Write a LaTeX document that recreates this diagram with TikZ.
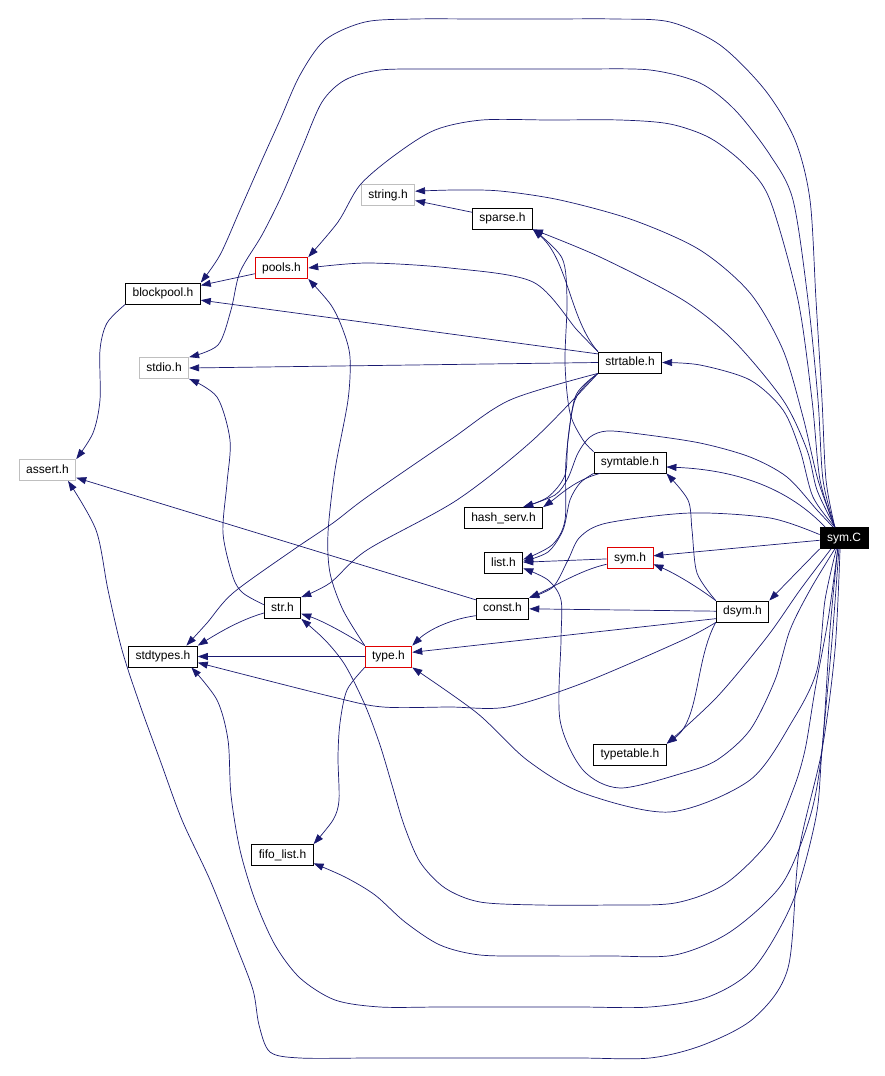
\documentclass[tikz,border=0pt]{standalone}
\usepackage{fontspec}
\setmainfont{Liberation Sans}
\usetikzlibrary{arrows.meta}

\definecolor{edgeblue}{HTML}{191970}
\definecolor{sysgray}{HTML}{BFBFBF}
\definecolor{truncred}{HTML}{E00000}

\begin{document}
\begin{tikzpicture}[x=1pt,y=-1pt,
  incfile/.style={rectangle, line width=0.8pt, inner xsep=7pt, minimum height=21pt,
    text height=9pt, text depth=2.5pt, font=\fontsize{12}{14}\selectfont},
  hdr/.style={incfile, draw=black},
  sys/.style={incfile, draw=sysgray},
  trunc/.style={incfile, draw=truncred},
  mainfile/.style={incfile, draw=black, fill=black, text=white},
  dep/.style={edgeblue, line width=0.7pt, -{Triangle[length=10pt,width=7pt]}}]

  \useasboundingbox (0,0) rectangle (884,1076);

  % Files
  \node[mainfile] (symC) at (844,538) {sym.C};
  \node[sys] (string) at (388,195) {string.h};
  \node[hdr] (sparse) at (502.5,218.5) {sparse.h};
  \node[trunc] (pools) at (281.5,268) {pools.h};
  \node[hdr] (blockpool) at (163,293.5) {blockpool.h};
  \node[sys] (stdio) at (164,368) {stdio.h};
  \node[hdr] (strtable) at (630,362.5) {strtable.h};
  \node[sys] (assert) at (47.5,470) {assert.h};
  \node[hdr] (symtable) at (630,462.5) {symtable.h};
  \node[hdr] (hashserv) at (503.5,518) {hash\_serv.h};
  \node[hdr] (list) at (503.5,563) {list.h};
  \node[trunc] (sym) at (630,558) {sym.h};
  \node[hdr] (const) at (502.5,608.5) {const.h};
  \node[hdr] (dsym) at (742.5,611.5) {dsym.h};
  \node[hdr] (str) at (282.5,608) {str.h};
  \node[hdr] (stdtypes) at (163,656.5) {stdtypes.h};
  \node[trunc] (type) at (388.5,656.5) {type.h};
  \node[hdr] (typetable) at (630,754.5) {typetable.h};
  \node[hdr] (fifolist) at (282.5,855) {fifo\_list.h};

  % sym.C, loops over the top
  \draw[dep] plot[smooth, tension=0.5] coordinates {(symC.130) (826,480) (822,400) (816,300) (810,200) (795,140) (765,90) (720,45) (670,22) (615,19) (550,19) (480,19) (415,19) (365,22) (325,40) (300,75) (280,120) (262,160) (240,210) (220,255) (blockpool.north east)};
  \draw[dep] plot[smooth, tension=0.5] coordinates {(symC.130) (823,480) (818,400) (808,300) (793,200) (770,155) (735,110) (700,83) (650,70) (580,69) (510,69) (440,69) (380,70) (345,80) (322,102) (302,148) (282,195) (262,235) (240,272) (231,310) (218,345) (stdio.north east)};
  \draw[dep] plot[smooth, tension=0.5] coordinates {(symC.130) (820,480) (812,400) (798,300) (770,200) (745,165) (710,138) (670,124) (620,120) (550,120) (482,120) (435,130) (395,155) (360,185) (338,222) (pools.north east)};
  \draw[dep] plot[smooth, tension=0.5] coordinates {(symC.130) (818,480) (803,417) (783,350) (750,293) (700,250) (633,220) (560,200) (500,191) (455,190) (string.8)};
  \draw[dep] plot[smooth, tension=0.5] coordinates {(symC.130) (817,490) (807,450) (783,400) (733,340) (683,300) (600,257) (sparse.south east)};
  \draw[dep] plot[smooth, tension=0.5] coordinates {(symC.130) (813,497) (800,450) (783,410) (750,380) (700,365) (strtable.east)};
  \draw[dep] (symC.150) .. controls (790,490) and (740,470) .. (symtable.-7);
  \draw[dep] plot[smooth, tension=0.5] coordinates {(symC.135) (817,510) (787,477) (750,457) (700,443) (640,434) (607,431) (590,437) (578,453) (568,478) (555,495) (hashserv.29)};
  \draw[dep] (symC) -- (sym);
  \draw[dep] plot[smooth, tension=0.5] coordinates {(symC.172) (770,518) (690,513) (607,523) (580,537) (568,560) (553,587) (const.north east)};
  \draw[dep] (symC.south west) -- (dsym.north east);
  \draw[dep] plot[smooth, tension=0.5] coordinates {(symC.-140) (800,590) (767,637) (717,697) (typetable.north east)};

  % sym.C, loops under the bottom
  \draw[dep] plot[smooth, tension=0.5] coordinates {(symC.-130) (810,590) (790,630) (775,680) (750,730) (717,760) (683,773) (620,788) (583,770) (560,720) (561,640) (561,600) (548,580) (list.-15)};
  \draw[dep] plot[smooth, tension=0.5] coordinates {(symC.-125) (825,600) (817,670) (793,720) (750,780) (670,812) (583,793) (527,760) (477,713) (type.south east)};
  \draw[dep] plot[smooth, tension=0.5] coordinates {(symC.-120) (828,620) (815,690) (805,750) (793,790) (770,840) (725,884) (675,903) (610,905) (540,905) (480,902) (445,888) (420,862) (404,825) (392,785) (380,745) (365,705) (345,665) (325,640) (str.-30)};
  \draw[dep] plot[smooth, tension=0.5] coordinates {(symC.-120) (830,630) (822,750) (810,817) (782,884) (730,932) (675,955) (610,956) (540,956) (480,955) (440,945) (405,922) (375,895) (345,877) (fifolist.-15)};
  \draw[dep] plot[smooth, tension=0.5] coordinates {(symC.-115) (832,640) (822,750) (816,817) (793,901) (754,968) (708,997) (650,1007) (580,1007) (510,1007) (440,1007) (380,1007) (335,1000) (300,978) (275,945) (255,900) (240,850) (231,795) (228,740) (217,700) (stdtypes.-21)};
  \draw[dep] plot[smooth, tension=0.5] coordinates {(symC.-110) (835,650) (822,750) (799,851) (788,968) (754,1018) (703,1045) (650,1058) (580,1058) (510,1058) (440,1058) (370,1058) (300,1058) (270,1052) (259,1025) (253,990) (236,945) (210,880) (182,820) (160,760) (140,705) (122,650) (108,590) (96,530) (assert.-28)};

  % strtable.h
  \draw[dep] plot[smooth, tension=0.5] coordinates {(strtable.north west) (577,330) (533,282) (450,268) (367,263) (pools.east)};
  \draw[dep] (strtable.165) -- (blockpool.-10);
  \draw[dep] (strtable.west) -- (stdio.east);
  \draw[dep] (strtable.north west) .. controls (570,320) and (568,260) .. (sparse.south east);
  \draw[dep] plot[smooth, tension=0.5] coordinates {(strtable.south west) (576,395) (568,440) (565,475) (548,497) (hashserv.29)};
  \draw[dep] plot[smooth, tension=0.5] coordinates {(strtable.south west) (575,400) (566,460) (565,520) (552,545) (list.10)};
  \draw[dep] plot[smooth, tension=0.5] coordinates {(strtable.south west) (533,440) (457,500) (367,550) (330,583) (str.north east)};
  \draw[dep] plot[smooth, tension=0.5] coordinates {(strtable.south west) (510,400) (450,440) (367,497) (333,523) (293,550) (233,593) (207,623) (stdtypes.25)};

  % symtable.h
  \draw[dep] plot[smooth, tension=0.5] coordinates {(symtable.north west) (583,440) (570,413) (565,363) (567,300) (562,258) (sparse.south east)};
  \draw[dep] (symtable.200) .. controls (575,480) and (560,495) .. (hashserv.north east);
  \draw[dep] plot[smooth, tension=0.5] coordinates {(symtable.south west) (580,483) (570,500) (563,530) (548,552) (list.5)};

  % other headers
  \draw[dep] (sparse) -- (string);
  \draw[dep] (pools) -- (blockpool);
  \draw[dep] plot[smooth, tension=0.5] coordinates {(blockpool.south west) (107,323) (100,350) (100,400) (93,433) (assert.north east)};
  \draw[dep] (const.162) -- (assert.-15);
  \draw[dep] (const.195) .. controls (445,620) and (425,633) .. (type.north east);
  \draw[dep] (dsym) -- (const);
  \draw[dep] (dsym.195) -- (type.10);
  \draw[dep] (dsym.north west) .. controls (695,585) and (672,572) .. (sym.-15);
  \draw[dep] plot[smooth, tension=0.5] coordinates {(dsym.north west) (697,573) (692,530) (688,500) (symtable.south east)};
  \draw[dep] (dsym.south west) .. controls (695,660) and (700,720) .. (typetable.north east);
  \draw[dep] plot[smooth, tension=0.5] coordinates {(dsym.south west) (683,640) (583,683) (507,707) (450,707) (383,707) (333,697) (stdtypes.-10)};
  \draw[dep] (sym) -- (list);
  \draw[dep] (sym.195) .. controls (580,570) and (552,588) .. (const.north east);
  \draw[dep] (type) -- (stdtypes);
  \draw[dep] (type.north west) .. controls (340,630) and (320,620) .. (str.-17);
  \draw[dep] plot[smooth, tension=0.5] coordinates {(type.north west) (343,610) (330,573) (328,533) (335,470) (348,400) (350,357) (343,330) (331,305) (pools.south east)};
  \draw[dep] plot[smooth, tension=0.5] coordinates {(type.south west) (347,690) (340,723) (338,757) (339,800) (333,820) (fifolist.north east)};
  \draw[dep] plot[smooth, tension=0.5] coordinates {(str.170) (243,593) (233,577) (223,533) (227,483) (230,440) (217,397) (stdio.south east)};
  \draw[dep] (str.195) .. controls (240,620) and (220,632) .. (stdtypes.north east);
\end{tikzpicture}
\end{document}
